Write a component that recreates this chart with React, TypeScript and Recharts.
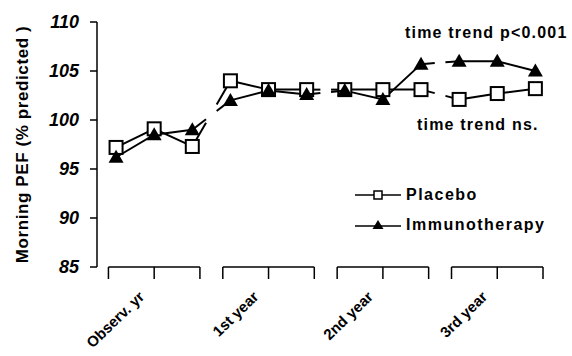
import React from 'react';
import { LineChart, Line, XAxis, YAxis, ReferenceLine, Label } from 'recharts';

const periods = ['Observ. yr', '1st year', '2nd year', '3rd year'];
const placebo = [97.2, 99.1, 97.3, 104.0, 103.1, 103.1, 103.1, 103.1, 103.1, 102.1, 102.7, 103.2];
const immuno = [96.2, 98.5, 99.0, 102.0, 103.0, 102.6, 103.0, 102.1, 105.7, 106.0, 106.0, 105.0];
const yTicks = [85, 90, 95, 100, 105, 110];

const FONT = "'Liberation Sans', Arial, Helvetica, sans-serif";
const PER_GROUP = 3;
const centers = periods.map((_, g) => g * PER_GROUP + 1);
const xTicks = centers.flatMap((c) => [c - 1.2, c, c + 1.2]);

// one row per visit, plus per-group copies so the line breaks between years
const rows = placebo.map((p, i) => {
  const g = Math.floor(i / PER_GROUP);
  const row: any = { x: i, placebo: p, immuno: immuno[i] };
  periods.forEach((_, k) => {
    row[`p${k}`] = k === g ? p : null;
    row[`i${k}`] = k === g ? immuno[i] : null;
  });
  return row;
});

const cache: Record<string, { x: number; y: number }[]> = { placebo: [], immuno: [] };
const STUB = 0.36;

const recorder = (key: string) => (props: any) => {
  cache[key][props.index] = { x: props.cx, y: props.cy };
  return <g key={`rec-${key}-${props.index}`} />;
};

// short line ends between year blocks
const stubs = (key: string, props: any) => {
  const pts = props.points && props.points.length ? props.points : cache[key];
  const { cx, cy, index } = props;
  const out: any[] = [];
  const push = (j: number) => {
    const o = pts[j];
    if (!o || o.x == null || o.y == null) return;
    out.push(
      <line
        key={`st-${key}-${index}-${j}`}
        x1={cx}
        y1={cy}
        x2={cx + STUB * (o.x - cx)}
        y2={cy + STUB * (o.y - cy)}
        stroke="#000"
        strokeWidth={2}
      />
    );
  };
  if (index % PER_GROUP === PER_GROUP - 1 && index + 1 < placebo.length) push(index + 1);
  if (index % PER_GROUP === 0 && index > 0) push(index - 1);
  return out;
};

const squareDot = (props: any) => {
  const { cx, cy, index } = props;
  if (cx == null || cy == null) return <g key={`sq-${index}`} />;
  return (
    <g key={`sq-${index}`}>
      {stubs('placebo', props)}
      <rect x={cx - 6.5} y={cy - 6.5} width={13} height={13} fill="#fff" stroke="#000" strokeWidth={2} />
    </g>
  );
};

const triangleDot = (props: any) => {
  const { cx, cy, index } = props;
  if (cx == null || cy == null) return <g key={`tr-${index}`} />;
  return (
    <g key={`tr-${index}`}>
      {stubs('immuno', props)}
      <polygon points={`${cx},${cy - 7.5} ${cx - 7.5},${cy + 5.5} ${cx + 7.5},${cy + 5.5}`} fill="#000" />
    </g>
  );
};

const XTick = (props: any) => {
  const { x, payload } = props;
  const k = centers.indexOf(payload.value);
  if (k < 0) return <g />;
  const ax = x - 9;
  const ay = 298;
  return (
    <g transform={`translate(${ax}, ${ay}) rotate(-44)`}>
      <text x={0} y={0} textAnchor="end" fontFamily={FONT} fontWeight="bold" fontSize={15} fill="#000">
        {periods[k]}
      </text>
    </g>
  );
};

const LegendBox = () => (
  <div
    style={{
      position: 'absolute',
      left: 353,
      top: 180,
      fontFamily: FONT,
      fontWeight: 'bold',
      fontSize: 16,
      letterSpacing: 1.5,
      color: '#000',
      whiteSpace: 'nowrap',
    }}
  >
    <div style={{ display: 'flex', alignItems: 'center', height: 30 }}>
      <svg width={53} height={14}>
        <line x1={2} y1={7} x2={48} y2={7} stroke="#000" strokeWidth={1.5} />
        <rect x={21} y={3} width={8} height={8} fill="#fff" stroke="#000" strokeWidth={1.5} />
      </svg>
      <span>Placebo</span>
    </div>
    <div style={{ display: 'flex', alignItems: 'center', height: 30 }}>
      <svg width={53} height={14}>
        <line x1={2} y1={8} x2={48} y2={8} stroke="#000" strokeWidth={1.5} />
        <polygon points="25,2 19.5,11 30.5,11" fill="#000" />
      </svg>
      <span>Immunotherapy</span>
    </div>
  </div>
);

const noteStyle: React.CSSProperties = {
  position: 'absolute',
  fontFamily: FONT,
  fontWeight: 'bold',
  fontSize: 16,
  letterSpacing: 1.2,
  lineHeight: '18px',
  whiteSpace: 'nowrap',
  color: '#000',
};

const App: React.FC = () => {
  return (
    <div style={{ position: 'absolute', left: 0, top: 0, width: 572, height: 356, background: '#fff' }}>
      <LineChart width={572} height={356} data={rows} margin={{ top: 22, right: 29, left: 0, bottom: 0 }}>
        <XAxis
          dataKey="x"
          type="number"
          domain={[-0.5, 11.2]}
          ticks={xTicks}
          interval={0}
          axisLine={false}
          tickLine={{ stroke: '#000', strokeWidth: 1.5 }}
          tickSize={12}
          height={89}
          tick={<XTick />}
          allowDataOverflow
        />
        <YAxis
          domain={[85, 110]}
          ticks={yTicks}
          width={97}
          tickSize={7}
          tickMargin={11}
          axisLine={{ stroke: '#000', strokeWidth: 1.5 }}
          tickLine={{ stroke: '#000', strokeWidth: 1.5 }}
          tick={{ fill: '#000', fontFamily: FONT, fontWeight: 'bold', fontStyle: 'italic', fontSize: 18 }}
        >
          <Label
            content={(p: any) => {
              const vb = p.viewBox || { x: 0, y: 22, width: 97, height: 245 };
              const lx = 22;
              const ly = vb.y + vb.height / 2;
              return (
                <text
                  x={lx}
                  y={ly}
                  textAnchor="middle"
                  dominantBaseline="central"
                  transform={`rotate(-90, ${lx}, ${ly})`}
                  fontFamily={FONT}
                  fontWeight="bold"
                  fontSize={17}
                  letterSpacing={0.6}
                  fill="#000"
                >
                  Morning PEF (% predicted )
                </text>
              );
            }}
          />
        </YAxis>
        {centers.map((c) => (
          <ReferenceLine
            key={`base-${c}`}
            segment={[{ x: c - 1.2, y: 85 }, { x: c + 1.2, y: 85 }]}
            stroke="#000"
            strokeWidth={1.5}
          />
        ))}
        {periods.map((_, k) => (
          <Line key={`pl-${k}`} dataKey={`p${k}`} stroke="#000" strokeWidth={2} dot={false} activeDot={false} isAnimationActive={false} />
        ))}
        {periods.map((_, k) => (
          <Line key={`im-${k}`} dataKey={`i${k}`} stroke="#000" strokeWidth={2} dot={false} activeDot={false} isAnimationActive={false} />
        ))}
        <Line dataKey="placebo" stroke="none" dot={recorder('placebo')} activeDot={false} isAnimationActive={false} />
        <Line dataKey="immuno" stroke="none" dot={recorder('immuno')} activeDot={false} isAnimationActive={false} />
        <Line dataKey="placebo" stroke="none" dot={squareDot} activeDot={false} isAnimationActive={false} />
        <Line dataKey="immuno" stroke="none" dot={triangleDot} activeDot={false} isAnimationActive={false} />
      </LineChart>
      <LegendBox />
      <div style={{ ...noteStyle, left: 405, top: 24 }}>time trend p&lt;0.001</div>
      <div style={{ ...noteStyle, left: 417, top: 116 }}>time trend ns.</div>
    </div>
  );
};

export default App;
